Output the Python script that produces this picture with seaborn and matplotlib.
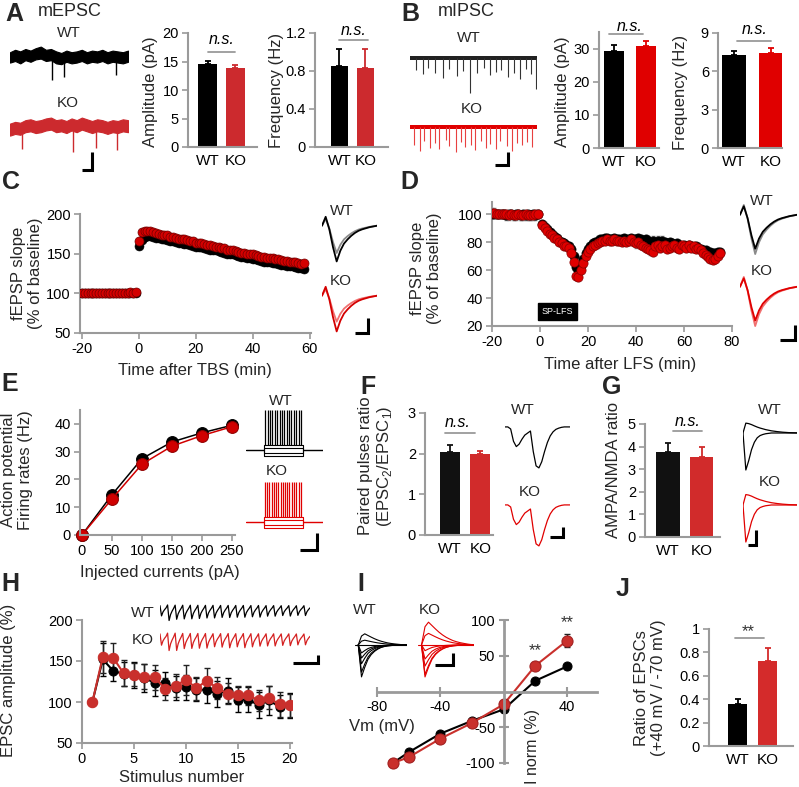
import numpy as np
import pandas as pd
import matplotlib
matplotlib.use("Agg")
import matplotlib.pyplot as plt
import seaborn as sns

sns.set_theme(style="white")
plt.rcParams['font.family'] = ['Liberation Sans', 'DejaVu Sans']
plt.rcParams['axes.unicode_minus'] = False
plt.rcParams['mathtext.fontset'] = 'custom'
plt.rcParams['mathtext.rm'] = 'Liberation Sans'

# ------------------------------------------------------------------ data
groups = ['WT', 'KO']
mepsc_amp, mepsc_amp_err = [14.5, 13.8], [0.6, 0.6]
mepsc_freq, mepsc_freq_err = [0.85, 0.83], [0.18, 0.20]
mipsc_amp, mipsc_amp_err = [29.3, 30.7], [1.8, 1.6]
mipsc_freq, mipsc_freq_err = [7.3, 7.4], [0.3, 0.45]
ppr, ppr_err = [2.05, 2.0], [0.17, 0.07]
ampa_nmda, ampa_nmda_err = [3.75, 3.55], [0.42, 0.42]
ratio_j, ratio_j_err = [0.355, 0.73], [0.05, 0.11]

# C: LTP after TBS
c_base_t = np.arange(-20, 0)
c_post_t = np.arange(0, 59)
c_wt_base = [100, 100, 100, 101, 100, 100, 100, 101, 100, 100, 100, 100, 101, 100, 100, 101, 100, 101, 101, 101]
c_ko_base = [100, 101, 100, 100, 101, 100, 101, 100, 100, 101, 100, 101, 100, 101, 100, 101, 101, 102, 101, 102]
c_wt_post = [160, 167, 171, 172, 172, 171, 170, 170, 169, 168,
             167, 166, 166, 165, 164, 163, 162, 162, 161, 160,
             159, 158, 158, 157, 156, 155, 155, 154, 153, 152,
             151, 150, 150, 149, 148, 147, 146, 146, 145, 144,
             143, 143, 142, 141, 140, 140, 139, 138, 138, 137,
             136, 136, 135, 134, 134, 133, 132, 132, 131]
c_ko_post = [166, 177, 179, 179, 178, 177, 176, 175, 174, 173,
             173, 171, 171, 170, 169, 168, 168, 167, 166, 166,
             164, 164, 163, 162, 161, 161, 160, 159, 158, 157,
             157, 155, 155, 154, 153, 152, 151, 151, 150, 149,
             149, 148, 147, 146, 146, 145, 144, 144, 143, 143,
             142, 141, 141, 140, 139, 139, 138, 137, 138]
c_sem = 3.0

# D: LTD after LFS
d_base_t = np.arange(-20, 0)
d_post_t = np.arange(1, 76)
d_wt_base = [100, 100, 100, 100, 100, 100, 99, 100, 100, 99, 100, 100, 99, 100, 99, 100, 99, 100, 99, 100]
d_ko_base = [101, 101, 100, 100, 100, 100, 100, 99, 100, 99, 99, 100, 99, 99, 100, 99, 99, 99, 100, 100]
d_wt_post = [93, 91, 89, 87, 86, 84, 83, 81, 80, 79,
             78, 77, 75, 70, 62, 60, 63, 68, 72, 75,
             77, 79, 80, 81, 82, 82, 83, 83, 82, 82,
             83, 82, 82, 82, 83, 82, 82, 83, 82, 82,
             83, 82, 81, 82, 81, 80, 81, 80, 81, 80,
             81, 80, 79, 80, 79, 78, 79, 78, 77, 78,
             77, 78, 77, 76, 77, 76, 75, 74, 74, 73,
             73, 72, 72, 73, 73]
d_ko_post = [92, 90, 88, 86, 85, 83, 82, 80, 79, 77,
             77, 76, 72, 66, 56, 55, 60, 65, 70, 73,
             75, 77, 78, 79, 80, 81, 81, 82, 81, 81,
             82, 81, 81, 80, 81, 80, 81, 82, 80, 79,
             80, 78, 77, 76, 75, 74, 73, 77, 78, 76,
             77, 78, 75, 76, 77, 78, 76, 75, 78, 77,
             76, 78, 76, 77, 75, 76, 74, 72, 71, 69,
             68, 67, 68, 70, 72]
d_sem = 3.0

# E: firing rates
e_current = [0, 50, 100, 150, 200, 250]
e_wt = [0, 14.5, 27.5, 33.5, 36.8, 39.5]
e_ko = [0, 13.0, 25.5, 32.0, 35.8, 39.0]
e_wt_err = [0, 1.5, 1.2, 1.2, 1.0, 1.0]
e_ko_err = [0, 1.5, 1.2, 1.2, 1.2, 1.2]

# H: train EPSC amplitude
h_stim = list(range(1, 21))
h_wt = [100, 152, 138, 134, 133, 129, 123.5, 123, 117, 118, 115, 115, 110, 114, 103, 103, 96, 102, 94, 96]
h_ko = [100, 155, 154, 135, 133, 131, 130, 116, 120, 127, 117, 126, 117, 110, 108, 108, 102, 105, 97, 96]
h_wt_err = [0, 20, 12, 15, 16, 17, 16, 14, 15, 15, 14, 16, 16, 15, 15, 15, 16, 18, 14, 15]
h_ko_err = [0, 20, 18, 16, 14, 15, 15, 13, 14, 18, 14, 15, 13, 13, 11, 12, 13, 14, 15, 14]

# I: I-V
i_vm = [-70, -60, -40, -20, 0, 20, 40]
i_wt = [-100, -85, -59, -41, -25, 15, 35]
i_ko = [-100, -92, -66, -44, -18, 36, 71]
i_wt_err = [0, 2, 2, 2, 3, 2, 4]
i_ko_err = [0, 2, 3, 2, 4, 5, 9]

# example trace shapes (schematic insets)
a_wt_top = [0.6, 0.9, 0.7, 1.0, 0.8, 1.1, 1.3, 0.9, 1.0, 0.7, 0.5, 0.8, 0.6, 0.7, 0.9, 0.6, 0.8, 0.7, 0.9, 0.6, 0.8, 0.7, 0.6, 0.8]
a_wt_bot = [-0.7, -0.5, -0.8, -0.4, -0.6, -0.3, -0.2, -0.5, -0.4, -0.8, -0.9, -0.6, -0.8, -0.7, -0.5, -0.8, -0.6, -0.7, -0.5, -0.8, -0.6, -0.7, -0.8, -0.6]
a_ko_top = [0.5, 0.7, 0.6, 0.9, 1.0, 0.8, 0.9, 1.1, 1.2, 0.9, 1.0, 0.8, 1.1, 0.9, 1.2, 1.0, 0.8, 1.0, 0.9, 0.7, 0.9, 0.8, 1.0, 0.9]
a_ko_bot = [-0.9, -0.7, -0.8, -0.5, -0.4, -0.6, -0.5, -0.3, -0.2, -0.5, -0.4, -0.6, -0.3, -0.5, -0.2, -0.4, -0.6, -0.4, -0.5, -0.7, -0.5, -0.6, -0.4, -0.5]
a_wt_ev_x, a_wt_ev_y = [0.36, 0.46, 0.90], [-2.9, -2.5, -2.2]
a_ko_ev_x, a_ko_ev_y = [0.10, 0.53, 0.73, 0.91], [-2.5, -2.8, -2.3, -2.6]
b_wt_ev_x = [0.05, 0.1, 0.14, 0.2, 0.26, 0.31, 0.37, 0.42, 0.47, 0.53, 0.58, 0.63, 0.68, 0.72, 0.77, 0.82, 0.87, 0.91, 0.95, 0.99]
b_wt_ev_d = [-1.5, -2.0, -1.2, -1.8, -2.5, -1.4, -2.2, -1.6, -4.3, -1.9, -1.3, -2.1, -1.7, -1.5, -2.3, -1.8, -2.6, -1.4, -2.0, -3.8]
b_ko_ev_x = [0.03, 0.08, 0.11, 0.16, 0.2, 0.23, 0.28, 0.31, 0.36, 0.4, 0.43, 0.48, 0.51, 0.56, 0.6, 0.63, 0.68, 0.71, 0.76, 0.8, 0.84, 0.88, 0.92, 0.96]
b_ko_ev_d = [-2.2, -3.0, -1.8, -2.6, -2.0, -2.8, -1.6, -2.4, -3.1, -1.9, -2.5, -2.2, -2.9, -1.7, -2.6, -2.1, -2.7, -1.8, -2.4, -3.0, -2.0, -2.3, -1.9, -2.5]
fepsp_shape = [0, 0.25, -0.1, -0.6, -1.0, -0.7, -0.5, -0.38, -0.28, -0.2, -0.14, -0.1, -0.07, -0.04, -0.02, 0]
pp_shape = [0, 0, -0.05, -0.35, -0.48, -0.42, -0.3, -0.2, -0.15, -0.1, -0.6, -0.95, -1.0, -0.85, -0.6,
            -0.38, -0.22, -0.12, -0.06, -0.03, -0.01, 0, 0, 0]
ampa_shape = [0, -1.0, -0.75, -0.45, -0.25, -0.13, -0.07, -0.04, -0.02, -0.01, 0, 0, 0, 0, 0, 0, 0, 0, 0, 0]
nmda_shape = [0, 1.0, 0.95, 0.85, 0.72, 0.6, 0.5, 0.42, 0.34, 0.28, 0.22, 0.18, 0.14, 0.11, 0.08, 0.06, 0.04, 0.03, 0.02, 0.01]
iv_fast = [0, 1.0, 0.7, 0.45, 0.3, 0.2, 0.13, 0.08, 0.05, 0.03, 0.02, 0.01, 0, 0, 0, 0]
iv_slow = [0, 0.8, 1.0, 0.85, 0.7, 0.56, 0.44, 0.34, 0.26, 0.19, 0.14, 0.1, 0.07, 0.04, 0.02, 0.01]
e_spikes_wt = [0.04, 0.1, 0.16, 0.22, 0.28, 0.34, 0.4, 0.46, 0.52, 0.58, 0.64, 0.7, 0.76, 0.82, 0.88, 0.94]
e_spikes_ko = [0.03, 0.09, 0.14, 0.2, 0.26, 0.31, 0.37, 0.43, 0.48, 0.54, 0.6, 0.65, 0.71, 0.77, 0.82, 0.88, 0.94]
e_steps = [-0.14, -0.08, 0.06, 0.12]
train_pulse = [0.15, -1.0, -0.55, -0.3, -0.1]

# ------------------------------------------------------------------ figure
W, H = 799, 787
fig = plt.figure(figsize=(W / 100, H / 100), dpi=100)
fig.patch.set_facecolor('white')

BLACK = '#000000'
GRAY = '#9a9a9a'
RED1 = '#cc2a2e'
RED2 = '#e00000'


def axpx(x0, y0, x1, y1):
    return fig.add_axes([x0 / W, 1 - y1 / H, (x1 - x0) / W, (y1 - y0) / H])


def ftext(x, y, s, **kw):
    kw.setdefault('ha', 'center')
    kw.setdefault('va', 'center')
    fig.text(x / W, 1 - y / H, s, **kw)


def style(ax, lw=1.5):
    ax.set_facecolor('none')
    for s in ['top', 'right']:
        ax.spines[s].set_visible(False)
    for s in ['left', 'bottom']:
        ax.spines[s].set_visible(True)
        ax.spines[s].set_color(GRAY)
        ax.spines[s].set_linewidth(lw)
    ax.tick_params(axis='both', colors=GRAY, labelcolor='black', labelsize=10.5,
                   length=4, width=1.2, direction='out', pad=2.5, left=True, bottom=True)
    ax.set_xlabel('')
    ax.set_ylabel('')


def bar_panel(rect, vals, errs, colors, ylim, yticks, xlim, width, ytl=None, mark=None):
    ax = axpx(*rect)
    df = pd.DataFrame({'group': groups, 'value': vals})
    sns.barplot(data=df, x='group', y='value', hue='group', palette=colors, width=width,
                saturation=1, legend=False, errorbar=None, linewidth=0, ax=ax)
    for i, (v, e) in enumerate(zip(vals, errs)):
        ax.errorbar(i, v, yerr=[[0], [e]], fmt='none', ecolor=colors[i], elinewidth=1.3,
                    capsize=2.5, capthick=1.3, zorder=3)
    ax.set_xlim(xlim)
    ax.set_ylim(ylim)
    ax.set_yticks(yticks)
    if ytl is not None:
        ax.set_yticklabels(ytl)
    style(ax)
    ax.tick_params(axis='x', length=0, labelsize=11, pad=5)
    if mark is not None:
        txt, tx, ty, lx0, lx1, ly, italic = mark
        ax.plot([lx0, lx1], [ly, ly], color=GRAY, lw=1.3, clip_on=False)
        ax.text(tx, ty, txt, ha='center', va='center', fontsize=11.5 if italic else 12,
                style='italic' if italic else 'normal', color='black' if italic else '#333333',
                clip_on=False)
    return ax


def trace_ax(rect, xlim, ylim):
    ax = axpx(*rect)
    ax.set_xlim(xlim)
    ax.set_ylim(ylim)
    ax.axis('off')
    return ax


def scalebar(rect, color='black'):
    ax = trace_ax(rect, (0, 1), (0, 1))
    ax.plot([0, 1, 1], [0, 0, 1], color=color, lw=2.2, solid_joinstyle='miter',
            solid_capstyle='butt', clip_on=False)


def letter(x, y, s):
    ftext(x, y, s, ha='left', va='top', fontsize=18, fontweight='bold')


# ------------------------------------------------------------------ A
letter(5, 2, 'A')
ftext(38, 3, 'mEPSC', ha='left', va='top', fontsize=13)
ftext(69, 33, 'WT', fontsize=11)
ftext(68, 103, 'KO', fontsize=11)
ax = trace_ax((10, 45, 128, 85), (0, 1), (-3.5, 1.5))
xx = np.linspace(0, 1, len(a_wt_top))
ax.fill_between(xx, a_wt_bot, a_wt_top, color=BLACK, lw=0.8, edgecolor=BLACK)
ax.vlines(a_wt_ev_x, 0, a_wt_ev_y, color=BLACK, lw=1)
ax = trace_ax((10, 115, 128, 158), (0, 1), (-3.5, 1.5))
ax.fill_between(xx, a_ko_bot, a_ko_top, color=RED1, lw=0.8, edgecolor=RED1)
ax.vlines(a_ko_ev_x, 0, a_ko_ev_y, color=RED1, lw=1)
scalebar((82, 152, 92, 170))

bar_panel((188, 33, 257, 147), mepsc_amp, mepsc_amp_err, [BLACK, RED1], (0, 20), [0, 5, 10, 15, 20],
          (-0.70, 1.77), 0.68, mark=('n.s.', 0.5, 18.9, 0, 1, 16.7, True))
ftext(151, 92, 'Amplitude (pA)', rotation=90, fontsize=12)
bar_panel((315, 33, 388, 147), mepsc_freq, mepsc_freq_err, [BLACK, RED1], (0, 1.2), [0, 0.4, 0.8, 1.2],
          (-0.94, 1.87), 0.67, ytl=['0', '0.4', '0.8', '1.2'],
          mark=('n.s.', 0.55, 1.23, 0, 1.1, 1.127, True))
ftext(276, 90, 'Frequency (Hz)', rotation=90, fontsize=12)

# ------------------------------------------------------------------ B
letter(401, 2, 'B')
ftext(438, 3, 'mIPSC', ha='left', va='top', fontsize=13)
ftext(469, 38, 'WT', fontsize=11)
ftext(472, 109, 'KO', fontsize=11)
ax = trace_ax((410, 48, 537, 95), (0, 1), (-4.6, 1.25))
ax.fill_between([0, 1], [-0.3, -0.3], [0.3, 0.3], color='#222222', lw=0)
ax.vlines(b_wt_ev_x, 0, b_wt_ev_d, color='#333333', lw=0.8)
ax = trace_ax((410, 117, 537, 165), (0, 1), (-4.75, 1.25))
ax.fill_between([0, 1], [-0.3, -0.3], [0.3, 0.3], color=RED2, lw=0)
ax.vlines(b_ko_ev_x, 0, b_ko_ev_d, color='#e84040', lw=0.8)
scalebar((495, 152, 508, 165))

bar_panel((599, 32, 659, 148), mipsc_amp, mipsc_amp_err, [BLACK, RED2], (0, 35), [0, 10, 20, 30],
          (-0.45, 1.4), 0.62, mark=('n.s.', 0.5, 36.6, -0.15, 0.9, 34.5, True))
ftext(562, 92, 'Amplitude (pA)', rotation=90, fontsize=12)
bar_panel((718, 33, 782, 148), mipsc_freq, mipsc_freq_err, [BLACK, RED2], (0, 9), [0, 3, 6, 9],
          (-0.43, 1.3), 0.65, mark=('n.s.', 0.55, 9.25, 0.08, 1.0, 8.36, True))
ftext(681, 92, 'Frequency (Hz)', rotation=90, fontsize=12)

# ------------------------------------------------------------------ C
letter(2, 170, 'C')
axC = axpx(80, 214, 311, 333)
axC.errorbar(c_post_t, c_wt_post, yerr=c_sem, fmt='none', ecolor='#555555', elinewidth=0.8, capsize=1.2)
axC.errorbar(c_base_t, c_wt_base, yerr=1.5, fmt='none', ecolor='#555555', elinewidth=0.8, capsize=1.2)
sns.scatterplot(x=list(c_base_t) + list(c_post_t), y=c_wt_base + c_wt_post, color=BLACK, s=42,
                edgecolor=BLACK, linewidth=0.4, ax=axC, zorder=3)
sns.scatterplot(x=list(c_base_t) + list(c_post_t), y=c_ko_base + c_ko_post, color='#d40000', s=42,
                edgecolor='#700000', linewidth=0.5, ax=axC, zorder=4)
axC.set_xlim(-20.7, 60.5)
axC.set_ylim(50, 200)
axC.set_xticks([-20, 0, 20, 40, 60])
axC.set_yticks([50, 100, 150, 200])
style(axC)
ftext(27, 273, 'fEPSP slope\n(% of baseline)', rotation=90, fontsize=12, linespacing=1.15)
ftext(195, 371, 'Time after TBS (min)', fontsize=12)
ftext(342, 211, 'WT', fontsize=11)
ftext(341, 281, 'KO', fontsize=11)
c_gain_wt = 100.0 / c_wt_post[-1]
c_gain_ko = 100.0 / c_ko_post[-1]
ax = trace_ax((322, 215, 377, 265), (0, len(fepsp_shape) - 1), (-1.1, 0.3))
ax.plot(np.array(fepsp_shape) * c_gain_wt, color='#8a8a8a', lw=1.3)
ax.plot(fepsp_shape, color=BLACK, lw=1.3)
ax = trace_ax((322, 285, 377, 335), (0, len(fepsp_shape) - 1), (-1.1, 0.3))
ax.plot(np.array(fepsp_shape) * c_gain_ko, color='#f07070', lw=1.3)
ax.plot(fepsp_shape, color='#d40000', lw=1.3)
scalebar((355, 318, 368, 333))

# ------------------------------------------------------------------ D
letter(400, 170, 'D')
axD = axpx(492, 202, 732, 326)
axD.errorbar(list(d_base_t) + list(d_post_t), d_wt_base + d_wt_post, yerr=d_sem, fmt='none',
             ecolor='#777777', elinewidth=0.7, capsize=1.2)
axD.errorbar(list(d_base_t) + list(d_post_t), d_ko_base + d_ko_post, yerr=d_sem, fmt='none',
             ecolor='#888888', elinewidth=0.7, capsize=1.2)
sns.scatterplot(x=list(d_base_t) + list(d_post_t), y=d_wt_base + d_wt_post, color=BLACK, s=44,
                edgecolor=BLACK, linewidth=0.4, ax=axD, zorder=3)
sns.scatterplot(x=list(d_base_t) + list(d_post_t), y=d_ko_base + d_ko_post, color=RED2, s=44,
                edgecolor='#8a0000', linewidth=0.5, ax=axD, zorder=4)
axD.set_xlim(-20, 80)
axD.set_ylim(20, 108.6)
axD.set_xticks([-20, 0, 20, 40, 60, 80])
axD.set_yticks([20, 40, 60, 80, 100])
style(axD)
axD.text(7.3, 30.4, 'SP-LFS', ha='center', va='center', color='white', fontsize=6.5,
         bbox=dict(facecolor='black', edgecolor='black', boxstyle='square,pad=0.45'))
ftext(426, 268, 'fEPSP slope\n(% of baseline)', rotation=90, fontsize=12, linespacing=1.15)
ftext(620, 365, 'Time after LFS (min)', fontsize=12)
ftext(762, 201, 'WT', fontsize=11)
ftext(762, 271, 'KO', fontsize=11)
d_gain_wt = d_wt_post[-1] / 100.0
d_gain_ko = d_ko_post[-1] / 100.0
ax = trace_ax((740, 203, 797, 258), (0, len(fepsp_shape) - 1), (-1.1, 0.3))
ax.plot(fepsp_shape, color='#8a8a8a', lw=1.3)
ax.plot(np.array(fepsp_shape) * (0.5 + 0.5 * d_gain_wt), color=BLACK, lw=1.3)
ax = trace_ax((740, 275, 797, 330), (0, len(fepsp_shape) - 1), (-1.1, 0.3))
ax.plot(fepsp_shape, color='#f07070', lw=1.3)
ax.plot(np.array(fepsp_shape) * (0.5 + 0.5 * d_gain_ko), color=RED2, lw=1.3)
scalebar((780, 325, 795, 340))

# ------------------------------------------------------------------ E
letter(1, 372, 'E')
axE = axpx(80, 410, 235, 535)
axE.errorbar(e_current, e_wt, yerr=e_wt_err, fmt='none', ecolor=BLACK, elinewidth=1, capsize=2)
axE.errorbar(e_current, e_ko, yerr=e_ko_err, fmt='none', ecolor='#990000', elinewidth=1, capsize=2)
sns.lineplot(x=e_current, y=e_wt, color=BLACK, marker='o', markersize=8.5, markeredgecolor=BLACK,
             linewidth=1.1, ax=axE, errorbar=None)
sns.lineplot(x=e_current, y=e_ko, color='#d00000', marker='o', markersize=8.5, markeredgecolor='#900000',
             linewidth=1.1, ax=axE, errorbar=None)
for ln in axE.lines:
    ln.set_clip_on(False)
axE.set_xlim(-3.3, 255)
axE.set_ylim(0, 45)
axE.set_xticks([0, 50, 100, 150, 200, 250])
axE.set_yticks([0, 10, 20, 30, 40])
style(axE)
ftext(17, 470, 'Action potential\nFiring rates (Hz)', rotation=90, fontsize=12, linespacing=1.15)
ftext(160, 572, 'Injected currents (pA)', fontsize=12)
ftext(281, 401, 'WT', fontsize=11)
ftext(277, 471, 'KO', fontsize=11)
for rect, spikes, col in [((246, 408, 323, 458), e_spikes_wt, BLACK),
                          ((246, 480, 323, 530), e_spikes_ko, '#e00000')]:
    ax = trace_ax(rect, (-0.45, 1.5), (-0.2, 1.05))
    for lev in e_steps:
        ax.plot([-0.45, 0, 0, 1, 1, 1.5], [0, 0, lev, lev, 0, 0], color=col, lw=0.8)
    ax.vlines(spikes, 0.12, 1.0, color=col, lw=0.9)
scalebar((300, 533, 317, 550))

# ------------------------------------------------------------------ F
letter(360, 375, 'F')
bar_panel((425, 413, 493, 535), ppr, ppr_err, ['#111111', '#d12b2b'], (0, 3), [0, 1, 2, 3],
          (-0.83, 1.42), 0.66, mark=('n.s.', 0.26, 2.76, -0.16, 0.82, 2.51, True))
ftext(376, 466, 'Paired pulses ratio\n(EPSC$_\\mathregular{2}$/EPSC$_\\mathregular{1}$)', rotation=90,
      fontsize=12, linespacing=1.15)
ftext(523, 410, 'WT', fontsize=11)
ftext(530, 492, 'KO', fontsize=11)
ax = trace_ax((505, 422, 570, 472), (0, len(pp_shape) - 1), (-1.1, 0.12))
ax.plot(pp_shape, color=BLACK, lw=0.9)
ax = trace_ax((505, 500, 570, 550), (0, len(pp_shape) - 1), (-1.1, 0.12))
ax.plot(pp_shape, color='#e00000', lw=0.9)
scalebar((550, 527, 563, 537))

# ------------------------------------------------------------------ G
letter(602, 375, 'G')
bar_panel((645, 424, 720, 537), ampa_nmda, ampa_nmda_err, ['#111111', '#d12b2b'], (0, 5),
          [0, 1, 2, 3, 4, 5], (-0.69, 1.55), 0.7, mark=('n.s.', 0.57, 5.13, 0.15, 1.0, 4.69, True))
ftext(614, 470, 'AMPA/NMDA ratio', rotation=90, fontsize=12)
ftext(770, 410, 'WT', fontsize=11)
ftext(770, 482, 'KO', fontsize=11)
for rect, ratio, col in [((743, 418, 797, 475), ampa_nmda[0], BLACK),
                         ((743, 490, 797, 547), ampa_nmda[1], '#e00000')]:
    ax = trace_ax(rect, (0, len(ampa_shape) - 1), (-1.135, 0.405))
    ax.plot(ampa_shape, color=col, lw=0.9)
    ax.plot(np.array(nmda_shape) / ratio, color=col, lw=0.9)
scalebar((748, 530, 756, 545))

# ------------------------------------------------------------------ H
letter(1, 572, 'H')
axH = axpx(82, 620, 292, 743)
axH.errorbar(h_stim, h_wt, yerr=h_wt_err, fmt='none', ecolor=BLACK, elinewidth=1, capsize=2, capthick=1)
axH.errorbar(h_stim, h_ko, yerr=h_ko_err, fmt='none', ecolor='#222222', elinewidth=1, capsize=2, capthick=1)
sns.lineplot(x=h_stim, y=h_wt, color=BLACK, marker='o', markersize=6.5, markeredgecolor=BLACK,
             linewidth=1.5, ax=axH, errorbar=None)
sns.lineplot(x=h_stim, y=h_ko, color='#c9302c', marker='o', markersize=7.5, markeredgecolor='#c9302c',
             linewidth=1.5, ax=axH, errorbar=None)
axH.set_xlim(0, 20.2)
axH.set_ylim(50, 200)
axH.set_xticks([0, 5, 10, 15, 20])
axH.set_yticks([50, 100, 150, 200])
style(axH)
ftext(9, 680, 'EPSC amplitude (%)', rotation=90, fontsize=12)
ftext(182, 778, 'Stimulus number', fontsize=12)
ftext(143, 613, 'WT', fontsize=11)
ftext(143, 640, 'KO', fontsize=11)
for rect, amps, col in [((160, 603, 310, 623), h_wt, BLACK), ((160, 631, 310, 653), h_ko, '#d42020')]:
    tr = np.concatenate([np.array(train_pulse) * a / 150.0 for a in amps])
    ax = trace_ax(rect, (0, len(tr) - 1), (-1.2, 0.3))
    ax.plot(tr, color=col, lw=0.9)
scalebar((293, 655, 318, 663))

# ------------------------------------------------------------------ I
letter(357, 572, 'I')
axI = axpx(377, 620, 597, 763)
axI.errorbar(i_vm, i_wt, yerr=i_wt_err, fmt='none', ecolor=BLACK, elinewidth=1, capsize=2)
axI.errorbar(i_vm, i_ko, yerr=i_ko_err, fmt='none', ecolor='#222222', elinewidth=1, capsize=2)
sns.lineplot(x=i_vm, y=i_wt, color=BLACK, marker='o', markersize=6.5, markeredgecolor=BLACK,
             linewidth=1.5, ax=axI, errorbar=None)
sns.lineplot(x=i_vm, y=i_ko, color='#c9302c', marker='o', markersize=8, markeredgecolor='#a02020',
             linewidth=1.5, ax=axI, errorbar=None)
for ln in axI.lines:
    ln.set_clip_on(False)
axI.set_xlim(-80, 59)
axI.set_ylim(-100, 100)
style(axI, lw=2)
axI.spines['left'].set_position(('data', 0))
axI.spines['bottom'].set_position(('data', 0))
axI.set_xticks([-80, -40, 40])
axI.set_yticks([-100, -50, 50, 100])
axI.tick_params(direction='inout', length=7, width=1.5)
axI.text(i_vm[5], 57, '**', ha='center', va='center', fontsize=12, color='#333333')
axI.text(i_vm[6], 97, '**', ha='center', va='center', fontsize=12, color='#333333', clip_on=False)
ftext(382, 727, 'Vm (mV)', fontsize=12)
ftext(533, 747, 'I norm (%)', rotation=90, fontsize=11.5)
ftext(365, 610, 'WT', fontsize=11)
ftext(430, 610, 'KO', fontsize=11)
for rect, iv, col, ylim in [((355, 622, 407, 682), i_wt, BLACK, (-1.16, 0.72)),
                            ((418, 618, 474, 684), i_ko, '#e00000', (-1.22, 0.84))]:
    ax = trace_ax(rect, (-1, len(iv_fast) - 1), ylim)
    ax.plot([-1, len(iv_fast) - 1], [0, 0], color=col, lw=0.8)
    for amp in iv:
        shape = iv_slow if amp > 0 else iv_fast
        ax.plot(np.array(shape) * amp / 100.0, color=col, lw=0.8)
scalebar((435, 653, 453, 665))

# ------------------------------------------------------------------ J
letter(616, 577, 'J')
bar_panel((709, 629, 793, 746), ratio_j, ratio_j_err, [BLACK, '#d42b2b'], (0, 1),
          [0, 0.2, 0.4, 0.6, 0.8, 1.0], (-0.95, 1.85), 0.63,
          ytl=['0', '0.2', '0.4', '0.6', '0.8', '1'],
          mark=('**', 0.35, 0.98, -0.08, 0.88, 0.92, False))
ftext(650, 688, 'Ratio of EPSCs\n(+40 mV / -70 mV)', rotation=90, fontsize=12, linespacing=1.15)

fig.savefig('out.png', dpi=100, facecolor='white')
